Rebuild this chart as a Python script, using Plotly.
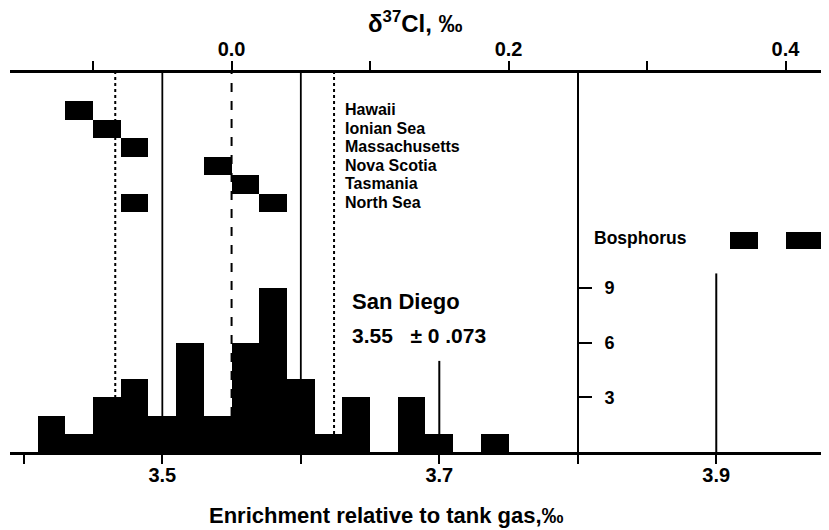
import plotly.graph_objects as go

# ---------------- data ----------------
# San Diego histogram (bin centres, bin width 0.02 permil)
bin_centers = [3.42, 3.44, 3.46, 3.48, 3.50, 3.52, 3.54, 3.56, 3.58, 3.60,
               3.62, 3.64, 3.66, 3.68, 3.70, 3.72, 3.74]
bin_counts = [2, 1, 3, 4, 2, 6, 2, 6, 9, 4, 1, 3, 0, 3, 1, 0, 1]
bin_width = 0.02

# individual sites (enrichment values)
sites = ["Hawaii", "Ionian Sea", "Massachusetts", "Nova Scotia", "Tasmania", "North Sea"]
site_values = [[3.44], [3.46], [3.48], [3.54], [3.56], [3.48, 3.58]]
bosphorus_values = [3.92, 3.96, 3.98]

# reference lines
sd_mean = 3.55
sd_sd_lines = [3.466, 3.624]      # dotted
solid_lines = [3.50, 3.60]        # solid
san_diego_marker = (3.70, 5.0)
bosphorus_marker = (3.90, 9.8)

bottom_ticks = [3.5, 3.7, 3.9]
bottom_ticktext = ["3.5", "3.7", "3.9"]
bottom_minor = [3.4, 3.6, 3.8, 4.0]
top_ticks = [0.0, 0.2, 0.4]
top_ticktext = ["0.0", "0.2", "0.4"]
top_minor = [-0.1, 0.1, 0.3]
count_ticks = [3, 6, 9]

# ---------------- figure ----------------
FONT = "Liberation Sans, Arial, Helvetica, sans-serif"
xr = [3.390, 3.9814]
yr = [0, 20.8]

fig = go.Figure()

fig.add_trace(go.Bar(x=bin_centers, y=bin_counts, width=bin_width,
                     marker=dict(color="black", line=dict(width=0)),
                     showlegend=False, hoverinfo="skip"))

# site rows
row_top = 19.245
row_pitch = 1.015
bx, by, bb = [], [], []
for i, vals in enumerate(site_values):
    for v in vals:
        bx.append(v)
        by.append(row_pitch)
        bb.append(row_top - (i + 1) * row_pitch)
bos_row = len(sites) + 1
for v in bosphorus_values:
    bx.append(v)
    by.append(row_pitch * 0.93)
    bb.append(row_top - (bos_row + 1) * row_pitch)
fig.add_trace(go.Bar(x=bx, y=by, base=bb, width=bin_width,
                     marker=dict(color="black", line=dict(width=0)),
                     showlegend=False, hoverinfo="skip"))

# dummy trace on top axis
fig.add_trace(go.Scatter(x=[xr[0] - sd_mean], y=[-5], xaxis="x2", mode="markers",
                         marker=dict(opacity=0), showlegend=False, hoverinfo="skip"))

shapes = []
for v in sd_sd_lines:
    shapes.append(dict(type="line", xref="x", yref="paper", x0=v, x1=v, y0=0, y1=1,
                       line=dict(color="black", width=2, dash="dot"), layer="below"))
for v in solid_lines:
    shapes.append(dict(type="line", xref="x", yref="paper", x0=v, x1=v, y0=0, y1=1,
                       line=dict(color="black", width=1.8), layer="below"))
shapes.append(dict(type="line", xref="x", yref="paper", x0=sd_mean, x1=sd_mean, y0=0, y1=1,
                   line=dict(color="black", width=2, dash="dash"), layer="below"))
for (v, h) in [san_diego_marker, bosphorus_marker]:
    shapes.append(dict(type="line", xref="x", yref="y", x0=v, x1=v, y0=0, y1=h,
                       line=dict(color="black", width=2), layer="below"))

annotations = []
for i, name in enumerate(sites):
    annotations.append(dict(text=name, x=3.6304, y=row_top - (i + 0.5) * row_pitch + 0.05,
                            xref="x", yref="y", xanchor="left", yanchor="middle",
                            showarrow=False,
                            font=dict(family=FONT, size=16, color="black", weight="bold")))
annotations.append(dict(text="Bosphorus", x=3.8102, y=11.72,
                        xref="x", yref="y", xanchor="left", yanchor="middle", showarrow=False,
                        font=dict(family=FONT, size=17.5, color="black", weight="bold")))
annotations.append(dict(text="San Diego", x=3.6353, y=8.25, xref="x", yref="y",
                        xanchor="left", yanchor="middle", showarrow=False,
                        font=dict(family=FONT, size=22, color="black", weight="bold")))
annotations.append(dict(text="3.55\u00a0\u00a0\u00a0\u00b1 0 .073", x=3.6353, y=6.4, xref="x", yref="y",
                        xanchor="left", yanchor="middle", showarrow=False,
                        font=dict(family=FONT, size=21, color="black", weight="bold")))
annotations.append(dict(text="\u03b4<sup>37</sup>Cl, \u2030", x=0.4957, y=1.1346,
                        xref="paper", yref="paper", xanchor="center", yanchor="middle",
                        showarrow=False,
                        font=dict(family=FONT, size=24, color="black", weight="bold")))
annotations.append(dict(text="Enrichment relative to tank gas,\u2030", x=0.4600, y=-0.168,
                        xref="paper", yref="paper", xanchor="center", yanchor="middle",
                        showarrow=False,
                        font=dict(family=FONT, size=22, color="black", weight="bold")))

tickfont = dict(family=FONT, size=20, color="black", weight="bold")

fig.update_layout(
    width=821, height=522,
    margin=dict(l=2, r=0, t=65, b=78, pad=0),
    paper_bgcolor="white", plot_bgcolor="white",
    barmode="overlay", bargap=0,
    showlegend=False,
    shapes=shapes, annotations=annotations,
    xaxis=dict(range=xr, tickmode="array", tickvals=bottom_ticks, ticktext=bottom_ticktext,
               ticks="outside", ticklen=9, tickwidth=2, tickcolor="black",
               minor=dict(tickmode="array", tickvals=bottom_minor, ticks="outside",
                          ticklen=9, tickwidth=2, tickcolor="black", showgrid=False),
               showline=True, linewidth=3, linecolor="black", showgrid=False, zeroline=False,
               tickfont=tickfont, ticklabelstandoff=-6, anchor="y", side="bottom"),
    xaxis2=dict(range=[xr[0] - sd_mean, xr[1] - sd_mean], overlaying="x", side="top",
                tickmode="array", tickvals=top_ticks, ticktext=top_ticktext,
                ticks="outside", ticklen=9, tickwidth=2, tickcolor="black",
                minor=dict(tickmode="array", tickvals=top_minor, ticks="outside",
                           ticklen=9, tickwidth=2, tickcolor="black", showgrid=False),
                showline=True, linewidth=3, linecolor="black", showgrid=False, zeroline=False,
                tickfont=tickfont, ticklabelstandoff=-3, anchor="y"),
    yaxis=dict(range=yr, anchor="free", position=(3.8 - xr[0]) / (xr[1] - xr[0]), side="right",
               tickmode="array", tickvals=count_ticks, ticks="outside", ticklen=13, tickwidth=2,
               tickcolor="black", showline=True, linewidth=2, linecolor="black",
               showgrid=False, zeroline=False, ticklabelstandoff=9,
               tickfont=dict(family=FONT, size=18, color="black", weight="bold")),
)

fig.write_html("out.html")
